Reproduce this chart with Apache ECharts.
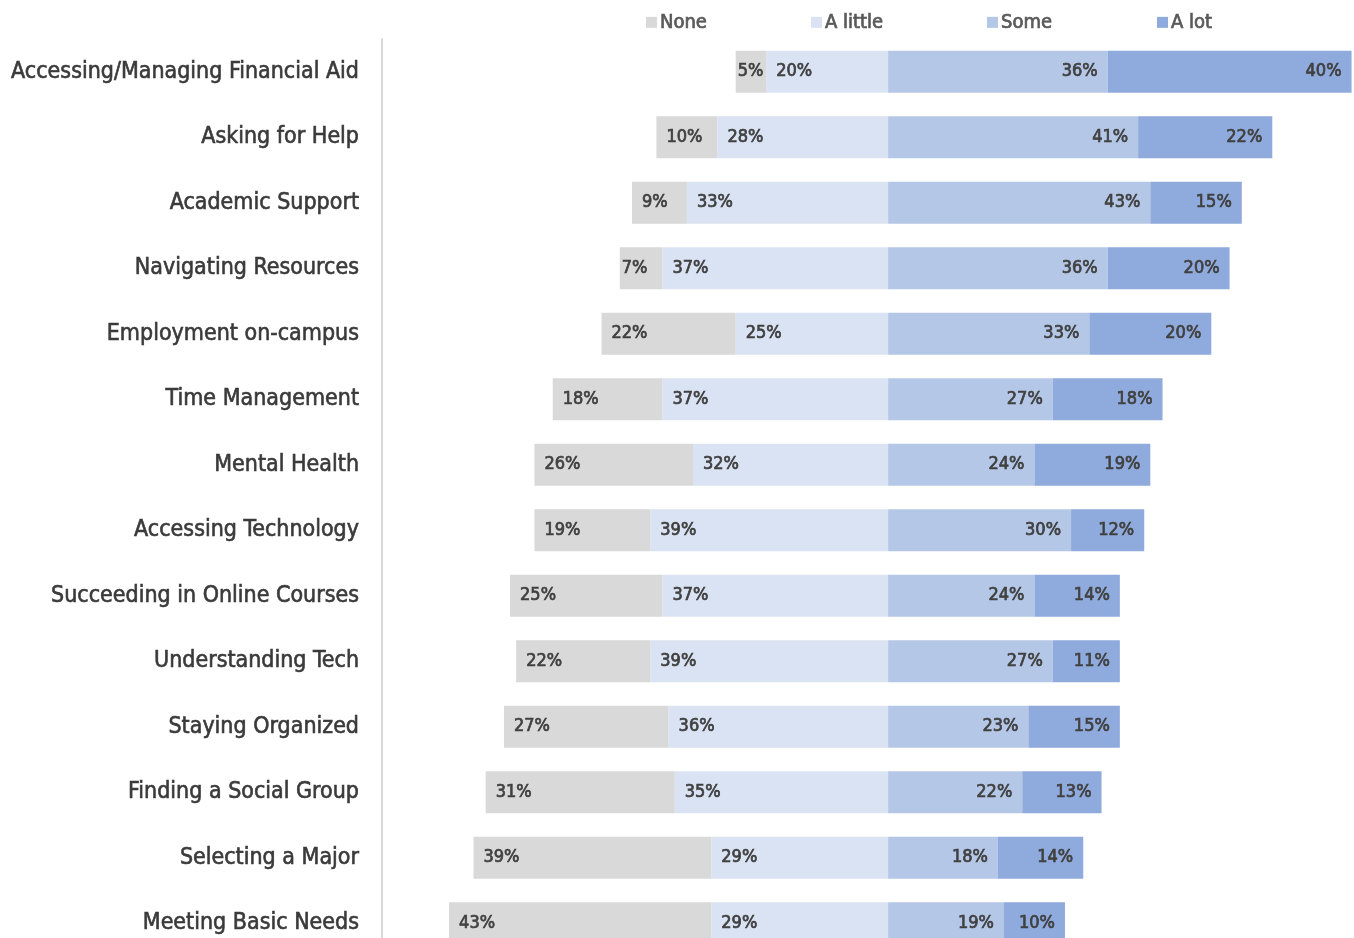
<!DOCTYPE html>
<html>
<head>
<meta charset="utf-8">
<title>Support needs</title>
<script src="https://cdn.jsdelivr.net/npm/echarts@6/dist/echarts.min.js"></script>
<style>
  html, body { margin: 0; padding: 0; background: #fff; }
  #chart { width: 1354px; height: 938px; }
</style>
</head>
<body>
<div id="chart"></div>
<script>
var categories = ['Accessing/Managing Financial Aid', 'Asking for Help', 'Academic Support', 'Navigating Resources',
  'Employment on-campus', 'Time Management', 'Mental Health', 'Accessing Technology',
  'Succeeding in Online Courses', 'Understanding Tech', 'Staying Organized', 'Finding a Social Group',
  'Selecting a Major', 'Meeting Basic Needs'];
var noneVals    = [5, 10, 9, 7, 22, 18, 26, 19, 25, 22, 27, 31, 39, 43];
var aLittleVals = [20, 28, 33, 37, 25, 37, 32, 39, 37, 39, 36, 35, 29, 29];
var someVals    = [36, 41, 43, 36, 33, 27, 24, 30, 24, 27, 23, 22, 18, 19];
var aLotVals    = [40, 22, 15, 20, 20, 18, 19, 12, 14, 11, 15, 13, 14, 10];
var seriesNames = ['None', 'A little', 'Some', 'A lot'];

var colors = { 'None': '#d9d9d9', 'A little': '#dae3f3', 'Some': '#b4c7e7', 'A lot': '#8faadc' };
var font = "'Liberation Sans Narrow', 'DejaVu Sans Condensed', 'Roboto Condensed', 'Noto Sans', sans-serif";
var textColor = '#404040';

// left side bars are negative so they grow away from the centre line
function makeSeries(name, vals, left) {
  return {
    name: name, type: 'bar', stack: 'total', barWidth: 42,
    itemStyle: { color: colors[name] },
    data: vals.map(function(v) {
      return {
        value: left ? -v : v,
        label: { distance: v < 8 ? 2 : 10 }
      };
    }),
    label: {
      show: true,
      position: left ? 'insideLeft' : 'insideRight',
      formatter: function(p) { return Math.abs(p.value) + '%'; },
      color: textColor, fontFamily: font, fontSize: 18,
      textBorderColor: textColor, textBorderWidth: 0.7
    }
  };
}

var legendX = [641, 806, 982, 1152];
var legends = seriesNames.map(function(n, i) {
  return {
    data: [n], left: legendX[i], top: 7, itemWidth: 11, itemHeight: 11, itemGap: 0,
    icon: 'rect',
    textStyle: {
      color: '#595959', fontFamily: font, fontSize: 20, padding: [0, 0, 0, -2],
      textBorderColor: '#595959', textBorderWidth: 0.7
    }
  };
});

var chart = echarts.init(document.getElementById('chart'));
chart.setOption({
  animation: false,
  legend: legends,
  grid: { left: 382, right: 0, top: 39, height: 917, outerBoundsMode: 'none', containLabel: false },
  xAxis: {
    type: 'value', min: -83, max: 76.4,
    show: false
  },
  yAxis: {
    type: 'category', data: categories, inverse: true,
    axisLine: { show: true, onZero: false, lineStyle: { color: '#d9d9d9', width: 2 } },
    axisTick: { show: false },
    axisLabel: {
      color: '#3a3a3a', fontFamily: font, fontSize: 23, margin: 23,
      textBorderColor: '#3a3a3a', textBorderWidth: 0.6
    }
  },
  series: [
    makeSeries('A little', aLittleVals, true),
    makeSeries('None', noneVals, true),
    makeSeries('Some', someVals, false),
    makeSeries('A lot', aLotVals, false)
  ]
});
</script>
</body>
</html>
